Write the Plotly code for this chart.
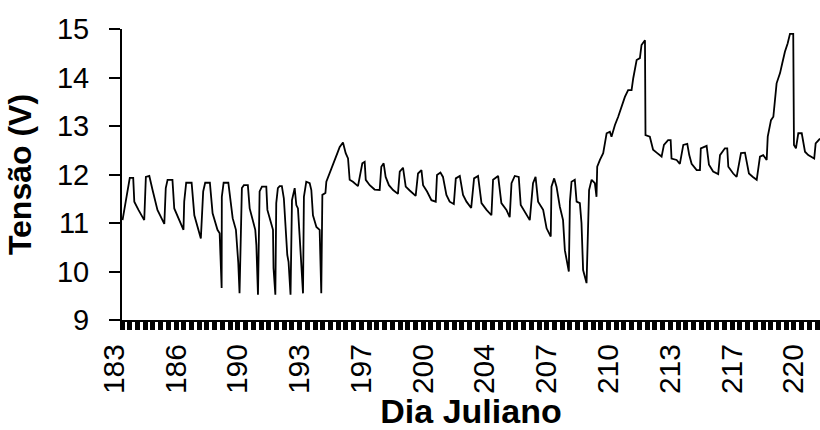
import plotly.graph_objects as go

# Battery voltage record (Julian day, volts)
dia = [
    183.03, 183.21, 183.30, 183.43, 183.62, 183.68, 183.91, 184.23, 184.32, 184.51,
    184.69, 184.96, 185.34, 185.42, 185.52, 185.79, 185.89, 186.40, 186.44, 186.55,
    186.85, 187.00, 187.36, 187.49, 187.60, 187.86, 188.01, 188.28, 188.40, 188.51,
    188.52, 188.62, 188.88, 189.12, 189.30, 189.43, 189.50, 189.63, 189.74, 189.96,
    190.06, 190.24, 190.37, 190.43, 190.52, 190.61, 190.74, 190.98, 191.04, 191.22,
    191.35, 191.38, 191.48, 191.53, 191.62, 191.72, 191.84, 191.95, 192.03, 192.14,
    192.21, 192.32, 192.40, 192.55, 192.64, 192.73, 192.82, 193.01, 193.06, 193.19,
    193.38, 193.47, 193.56, 193.75, 193.93, 194.02, 194.08, 194.25, 194.30, 194.48,
    194.58, 194.76, 194.91, 195.04, 195.22, 195.37, 195.50, 195.59, 195.77, 196.05,
    196.29, 196.42, 196.48, 196.70, 196.97, 197.25, 197.34, 197.47, 197.58, 197.76,
    197.99, 198.26, 198.36, 198.54, 198.69, 198.91, 199.24, 199.37, 199.56, 199.65,
    199.87, 200.11, 200.35, 200.42, 200.61, 200.75, 200.94, 201.12, 201.35, 201.46,
    201.68, 201.86, 202.05, 202.31, 202.47, 202.69, 202.88, 203.16, 203.43, 203.52,
    203.80, 203.98, 204.26, 204.44, 204.54, 204.72, 204.94, 205.05, 205.27, 205.55,
    205.73, 205.87, 206.01, 206.29, 206.48, 206.71, 206.75, 206.90, 207.03, 207.21,
    207.39, 207.49, 207.71, 207.77, 207.86, 208.04, 208.14, 208.32, 208.41, 208.50,
    208.69, 208.83, 208.97, 209.15, 209.24, 209.28, 209.43, 209.61, 209.80, 209.98,
    210.07, 210.26, 210.44, 210.63, 210.81, 210.99, 211.18, 211.27, 211.46, 211.64,
    211.73, 211.92, 211.95, 212.19, 212.37, 212.60, 212.84, 212.97, 213.20, 213.34,
    213.39, 213.67, 213.85, 214.04, 214.26, 214.37, 214.50, 214.78, 214.96, 215.01,
    215.33, 215.46, 215.69, 215.97, 216.07, 216.34, 216.47, 216.53, 216.80, 216.99,
    217.23, 217.45, 217.54, 217.67, 217.89, 218.10, 218.28, 218.46, 218.65, 218.71,
    218.89, 219.02, 219.20, 219.39, 219.51, 219.66, 219.81, 219.94, 220.12, 220.16,
    220.27, 220.40, 220.59, 220.77, 220.95, 221.28, 221.36, 221.60,
]
tensao = [
    11.06, 11.47, 11.58, 11.93, 11.93, 11.44, 11.27, 11.06, 11.95, 11.97,
    11.68, 11.27, 10.98, 11.72, 11.89, 11.89, 11.30, 10.86, 11.44, 11.83,
    11.83, 11.16, 10.68, 11.65, 11.83, 11.83, 11.20, 10.86, 10.79, 9.66,
    11.54, 11.83, 11.83, 11.10, 10.86, 10.18, 9.55, 11.72, 11.78, 11.78,
    11.30, 11.06, 10.86, 10.55, 9.52, 11.65, 11.75, 11.75, 11.27, 11.03,
    10.86, 10.07, 9.52, 11.41, 11.72, 11.76, 11.76, 11.51, 11.10, 10.34,
    10.20, 9.52, 11.47, 11.72, 11.37, 11.30, 10.75, 9.55, 11.54, 11.85,
    11.82, 11.68, 11.16, 10.92, 10.86, 9.55, 11.58, 11.62, 11.85, 12.02,
    12.10, 12.26, 12.44, 12.57, 12.66, 12.44, 12.33, 11.89, 11.85, 11.76,
    12.23, 12.26, 11.89, 11.78, 11.69, 11.68, 12.16, 12.23, 11.95, 11.78,
    11.68, 11.60, 12.06, 12.14, 11.75, 11.67, 11.56, 12.02, 12.09, 11.78,
    11.65, 11.47, 11.44, 11.99, 12.04, 11.95, 11.58, 11.44, 11.39, 11.92,
    11.97, 11.58, 11.44, 11.31, 11.92, 11.97, 11.41, 11.27, 11.16, 11.89,
    11.97, 11.41, 11.27, 11.12, 11.82, 11.97, 11.95, 11.37, 11.23, 11.06,
    11.82, 11.95, 11.44, 11.27, 10.89, 10.72, 11.75, 11.92, 11.75, 11.34,
    11.06, 10.44, 10.00, 11.44, 11.85, 11.89, 11.44, 11.41, 11.00, 10.03,
    9.76, 11.68, 11.89, 11.82, 11.54, 12.16, 12.30, 12.44, 12.85, 12.88,
    12.78, 13.02, 13.19, 13.40, 13.60, 13.74, 13.74, 13.98, 14.36, 14.40,
    14.67, 14.77, 12.81, 12.78, 12.51, 12.44, 12.37, 12.61, 12.71, 12.71,
    12.33, 12.30, 12.22, 12.61, 12.63, 12.40, 12.22, 12.09, 12.09, 12.54,
    12.59, 12.20, 12.06, 12.01, 12.40, 12.54, 12.54, 12.16, 12.02, 11.95,
    12.44, 12.45, 12.30, 12.02, 11.95, 11.89, 12.37, 12.40, 12.30, 12.78,
    13.12, 13.19, 13.88, 14.09, 14.29, 14.53, 14.70, 14.90, 14.90, 12.61,
    12.54, 12.85, 12.85, 12.47, 12.40, 12.33, 12.64, 12.74,
]

# Category labels shown along the time axis (one every 82 hourly records)
rotulos_dia = ["183", "186", "190", "193", "197", "200",
               "204", "207", "210", "213", "217", "220"]
passo_rotulo = 82 / 24
posicoes_rotulo = [183 + k * passo_rotulo for k in range(len(rotulos_dia))]

fonte = "Liberation Sans, Arial, sans-serif"

fig = go.Figure(
    go.Scatter(
        x=dia,
        y=tensao,
        mode="lines",
        line=dict(color="black", width=1.8),
        hoverinfo="skip",
    )
)

fig.update_layout(
    width=820,
    height=430,
    margin=dict(l=122, r=0, t=29, b=110),
    paper_bgcolor="white",
    plot_bgcolor="white",
    showlegend=False,
    font=dict(family=fonte, color="black"),
)

fig.update_xaxes(
    range=[183, 221.6],
    showgrid=False,
    zeroline=False,
    showline=True,
    linecolor="black",
    linewidth=2,
    tickmode="array",
    tickvals=posicoes_rotulo,
    ticktext=rotulos_dia,
    tickangle=-90,
    ticks="outside",
    ticklen=8,
    tickwidth=4.5,
    tickcolor="black",
    ticklabelshift=-8,
    ticklabelstandoff=2,
    tickfont=dict(family=fonte, size=30, color="black"),
    minor=dict(
        tickmode="linear",
        tick0=183,
        dtick=passo_rotulo / 8,
        ticks="outside",
        ticklen=8,
        tickwidth=4.5,
        tickcolor="black",
    ),
    title=dict(
        text="<b>Dia Juliano</b>",
        font=dict(family=fonte, size=34, color="black"),
        standoff=2,
    ),
)

fig.update_yaxes(
    range=[9, 15],
    showgrid=False,
    zeroline=False,
    showline=True,
    linecolor="black",
    linewidth=2,
    tickmode="array",
    tickvals=[9, 10, 11, 12, 13, 14, 15],
    ticks="outside",
    ticklen=11,
    tickwidth=2,
    tickcolor="black",
    ticklabelstandoff=14,
    tickfont=dict(family=fonte, size=29, color="black"),
    title=dict(
        text="<b>Tensão (V)</b>",
        font=dict(family=fonte, size=32, color="black"),
        standoff=16,
    ),
)

fig.write_html("out.html")
